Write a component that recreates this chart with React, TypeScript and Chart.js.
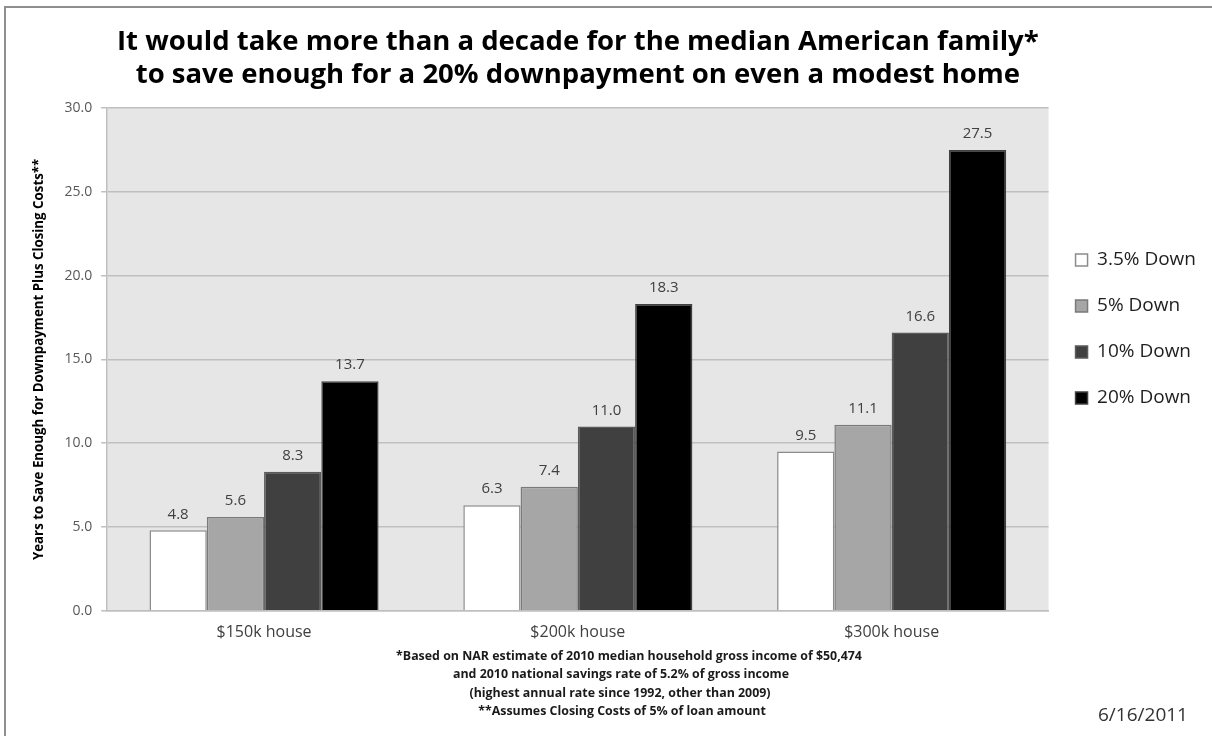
import { useEffect, useRef } from 'react';
import { Chart, registerables } from 'chart.js';

Chart.register(...registerables);

const categories = ['$150k house', '$200k house', '$300k house'];
const seriesLabels = ['3.5% Down', '5% Down', '10% Down', '20% Down'];
const down35 = [4.8, 6.3, 9.5];
const down5 = [5.6, 7.4, 11.1];
const down10 = [8.3, 11.0, 16.6];
const down20 = [13.7, 18.3, 27.5];
const yTicks = [0, 5, 10, 15, 20, 25, 30];
const titleLines = [
  'It would take more than a decade for the median American family*',
  'to save enough for a 20% downpayment on even a modest home',
];
const yAxisTitle = 'Years to Save Enough for Downpayment Plus Closing Costs**';
const footnoteLines = [
  '*Based on NAR estimate of 2010 median household gross income of $50,474',
  'and 2010 national savings rate of 5.2% of gross income',
  '(highest annual rate since 1992, other than 2009)',
  '**Assumes Closing Costs of 5% of loan amount',
];
const dateLabel = '6/16/2011';

const FONT = "'Open Sans', sans-serif";

const framePlugin = {
  id: 'frame',
  beforeDraw(chart: any) {
    const { ctx, chartArea } = chart;
    ctx.save();
    ctx.fillStyle = '#ffffff';
    ctx.fillRect(0, 0, chart.width, chart.height);
    ctx.strokeStyle = '#8f8f8f';
    ctx.lineWidth = 2;
    ctx.beginPath();
    ctx.moveTo(5, chart.height);
    ctx.lineTo(5, 7);
    ctx.lineTo(chart.width, 7);
    ctx.stroke();
    ctx.fillStyle = '#e6e6e6';
    ctx.fillRect(chartArea.left, chartArea.top, chartArea.right - chartArea.left, chartArea.bottom - chartArea.top);
    ctx.restore();
  },
};

const valueLabelPlugin = {
  id: 'valueLabels',
  afterDatasetsDraw(chart: any) {
    const { ctx } = chart;
    ctx.save();
    ctx.font = `15px ${FONT}`;
    ctx.fillStyle = '#404040';
    ctx.textAlign = 'center';
    ctx.textBaseline = 'middle';
    chart.data.datasets.forEach((ds: any, di: number) => {
      const meta = chart.getDatasetMeta(di);
      meta.data.forEach((el: any, i: number) => {
        ctx.fillText(Number(ds.data[i]).toFixed(1), el.x, el.y - 16);
      });
    });
    ctx.restore();
  },
};

const notesPlugin = {
  id: 'notes',
  afterDraw(chart: any) {
    const { ctx } = chart;
    ctx.save();
    ctx.font = `bold 12.4px ${FONT}`;
    ctx.fillStyle = '#1a1a1a';
    ctx.textAlign = 'center';
    ctx.textBaseline = 'middle';
    const ys = [656, 674.5, 693, 711.5];
    const xs = [629, 621, 620, 622];
    footnoteLines.forEach((line, i) => ctx.fillText(line, xs[i], ys[i]));
    ctx.font = `19px ${FONT}`;
    ctx.fillStyle = '#333333';
    ctx.textAlign = 'left';
    ctx.fillText(dateLabel, 1098, 716);
    ctx.restore();
  },
};

export default function App() {
  const ref = useRef<HTMLCanvasElement | null>(null);

  useEffect(() => {
    document.body.style.margin = '0';
    const canvas = ref.current;
    if (!canvas) return;
    const chart = new Chart(canvas, {
      type: 'bar',
      data: {
        labels: categories,
        datasets: [
          { label: seriesLabels[0], data: down35, backgroundColor: '#ffffff', borderColor: '#8c8c8c', borderWidth: 1.5 },
          { label: seriesLabels[1], data: down5, backgroundColor: '#a6a6a6', borderColor: '#7a7a7a', borderWidth: 1.5 },
          { label: seriesLabels[2], data: down10, backgroundColor: '#404040', borderColor: '#5a5a5a', borderWidth: 1.5 },
          { label: seriesLabels[3], data: down20, backgroundColor: '#000000', borderColor: '#404040', borderWidth: 1.5 },
        ],
      },
      options: {
        animation: false,
        responsive: false,
        devicePixelRatio: 1,
        layout: { padding: { left: 20, right: 6, top: 0, bottom: 82 } },
        datasets: { bar: { categoryPercentage: 0.73, barPercentage: 1.0 } },
        scales: {
          x: {
            grid: { display: false, drawTicks: false, tickLength: 0 },
            border: { display: true, color: '#bfbfbf', width: 1.5 },
            ticks: { color: '#404040', font: { family: FONT, size: 16 }, padding: 12 },
          },
          y: {
            min: 0,
            max: 30,
            afterBuildTicks: (axis: any) => {
              axis.ticks = yTicks.map((v) => ({ value: v }));
            },
            grid: { color: '#bfbfbf', lineWidth: 1.5, tickLength: 6, drawTicks: true, tickColor: '#bfbfbf' },
            border: { display: true, color: '#bfbfbf', width: 1.5 },
            ticks: {
              color: '#595959',
              font: { family: FONT, size: 14 },
              padding: 9,
              callback: (v: any) => Number(v).toFixed(1),
            },
            title: {
              display: true,
              text: yAxisTitle,
              color: '#000000',
              font: { family: FONT, size: 13.3, weight: 'bold' },
              padding: { top: 11, bottom: 8.5 },
            },
          },
        },
        plugins: {
          title: {
            display: true,
            fullSize: false,
            text: titleLines,
            color: '#000000',
            font: { family: FONT, size: 27.5, weight: 'bold', lineHeight: '33px' },
            padding: { top: 25.5, bottom: 16.5 },
          },
          legend: {
            display: true,
            position: 'right',
            align: 'start',
            fullSize: false,
            title: { display: true, text: '', font: { size: 13, lineHeight: 1 }, padding: { top: 102.5, bottom: 0 } },
            labels: {
              boxWidth: 12,
              boxHeight: 12,
              padding: 27,
              color: '#1f1f1f',
              font: { family: FONT, size: 19 },
            },
          },
          tooltip: { enabled: false },
        },
      },
      plugins: [framePlugin, valueLabelPlugin, notesPlugin],
    });
    return () => chart.destroy();
  }, []);

  return (
    <div style={{ width: 1212, height: 736 }}>
      <canvas ref={ref} width={1212} height={736} style={{ display: 'block' }} />
    </div>
  );
}
